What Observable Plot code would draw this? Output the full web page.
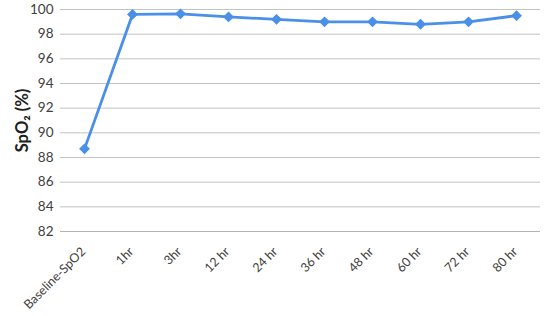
<!DOCTYPE html>
<html>
<head>
<meta charset="utf-8">
<script src="https://cdn.jsdelivr.net/npm/d3@7"></script>
<script src="https://cdn.jsdelivr.net/npm/@observablehq/plot@0.6"></script>
<style>
  html, body { margin: 0; padding: 0; background: #fff; }
  #chart svg { display: block; }
</style>
</head>
<body>
<div id="chart"></div>
<script>
const categories = ["Baseline-SpO2", "1hr", "3hr", "12 hr", "24 hr", "36 hr", "48 hr", "60 hr", "72 hr", "80 hr"];
const spo2 = [88.7, 99.6, 99.65, 99.4, 99.2, 99.0, 99.0, 98.8, 99.0, 99.5];
const yTicks = [82, 84, 86, 88, 90, 92, 94, 96, 98, 100];

const data = categories.map((c, i) => ({category: c, value: spo2[i]}));
const blue = "#4a8fe8";
const font = "Lato, 'Open Sans', sans-serif";

const chart = Plot.plot({
  width: 547,
  height: 316,
  marginLeft: 60,
  marginRight: 7,
  marginTop: 9,
  marginBottom: 85,
  style: {fontFamily: font, fontSize: "12.5px", color: "#404040", background: "#fff"},
  x: {type: "band", domain: categories, padding: 0},
  y: {domain: [82, 100]},
  marks: [
    Plot.gridY(yTicks, {stroke: "#c0c4c4", strokeOpacity: 1, strokeWidth: 1}),
    Plot.ruleX([0], {frameAnchor: "left", stroke: "#b0b4b4"}),
    Plot.ruleY([82], {stroke: "#b0b4b4", strokeWidth: 1}),
    Plot.axisY(yTicks, {tickSize: 0, tickPadding: 7, label: null, fontSize: 13.5, fill: "#404040"}),
    Plot.axisX({tickSize: 0, tickPadding: 18, dx: -1, tickRotate: -45, label: null, fontSize: 12.5, fill: "#404040"}),
    Plot.text(["SpO₂ (%)"], {frameAnchor: "left", textAnchor: "middle", dx: -38, rotate: -90, fontWeight: "bold", fontSize: 16.5, fill: "#202020"}),
    Plot.line(data, {x: "category", y: "value", stroke: blue, strokeWidth: 2.8}),
    Plot.dot(data, {x: "category", y: "value", symbol: "diamond2", r: 4.9, fill: blue, stroke: null})
  ]
});
document.getElementById("chart").appendChild(chart);
</script>
</body>
</html>
